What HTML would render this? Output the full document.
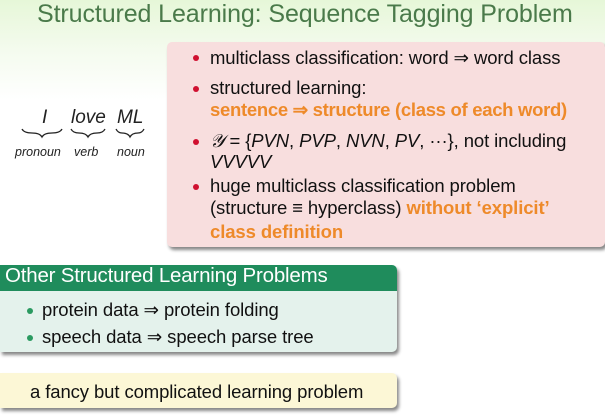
<!DOCTYPE html>
<html><head><meta charset="utf-8"><style>
*{margin:0;padding:0}
body{width:605px;height:418px;position:relative;overflow:hidden;font-family:"Liberation Sans",sans-serif;background:linear-gradient(#e6f7d8 0px,#f4fbee 50px,#fff 100px);}
.a{position:absolute;white-space:nowrap}
.t{font-size:18.5px;color:#111;letter-spacing:-0.1px}
.o{color:#ee8a2a;font-weight:bold}
.b{position:absolute;width:6px;height:6px;border-radius:50%}
.r{background:#d01030}
.g{background:#2a9a60}
</style></head><body>
<div class="a" style="left:37px;top:0px;font-size:25px;color:#4a7a4a;letter-spacing:-0.1px">Structured Learning: Sequence Tagging Problem</div>

<div class="a" style="left:167px;top:42px;width:438px;height:205px;background:#f8dede;border-radius:5px;box-shadow:2px 3px 3px #888"></div>
<div class="b r" style="left:193px;top:55px"></div>
<div class="a t" style="left:210px;top:47px">multiclass classification: word ⇒ word class</div>
<div class="b r" style="left:193px;top:86px"></div>
<div class="a t" style="left:210px;top:77px">structured learning:</div>
<div class="a t o" style="left:210px;top:99px;letter-spacing:-0.3px">sentence ⇒ structure (class of each word)</div>
<div class="b r" style="left:193px;top:139px"></div>
<div class="a t" style="left:210px;top:130px"><i style="font-family:'Liberation Serif',serif">𝒴</i> = {<i>PVN</i>, <i>PVP</i>, <i>NVN</i>, <i>PV</i>, ···}, not including</div>
<div class="a t" style="left:210px;top:151px"><i>VVVVV</i></div>
<div class="b r" style="left:193px;top:184px"></div>
<div class="a t" style="left:210px;top:175px">huge multiclass classification problem</div>
<div class="a t" style="left:210px;top:197px">(structure ≡ hyperclass) <span class="o">without ‘explicit’</span></div>
<div class="a t o" style="left:210px;top:221px">class definition</div>

<div class="a" style="left:42px;top:107px;font-size:19px;font-style:italic;color:#222">I</div>
<div class="a" style="left:71px;top:107px;font-size:19px;font-style:italic;color:#222">love</div>
<div class="a" style="left:117px;top:107px;font-size:19px;font-style:italic;color:#222">ML</div>
<svg class="a" style="left:0;top:0" width="170" height="160">
<g fill="none" stroke="#222" stroke-width="1.3">
<path d="M22 129 q2 4 10 4 q8 0 10 4 q2 -4 10 -4 q8 0 10 -4"/>
<path d="M71 129 q2 4 8 4 q7 0 9 4 q2 -4 9 -4 q6 0 8 -4"/>
<path d="M116 129 q2 4 6 4 q6 0 8 4 q2 -4 8 -4 q4 0 6 -4"/>
</g></svg>
<div class="a" style="left:15px;top:145px;font-size:12.5px;font-style:italic;color:#222">pronoun</div>
<div class="a" style="left:74px;top:145px;font-size:12.5px;font-style:italic;color:#222">verb</div>
<div class="a" style="left:117px;top:145px;font-size:12.5px;font-style:italic;color:#222">noun</div>

<div class="a" style="left:0;top:265px;width:397px;height:87px;background:#e4f2ec;border-radius:0 5px 5px 0;box-shadow:2px 3px 3px #888;overflow:hidden">
<div style="height:26px;background:#1f8c5c"></div></div>
<div class="a" style="left:5px;top:264px;font-size:20.5px;color:#fff;letter-spacing:-0.2px">Other Structured Learning Problems</div>
<div class="b g" style="left:27px;top:308px"></div>
<div class="a t" style="left:42px;top:299px">protein data ⇒ protein folding</div>
<div class="b g" style="left:27px;top:335px"></div>
<div class="a t" style="left:42px;top:326px">speech data ⇒ speech parse tree</div>

<div class="a" style="left:0;top:373px;width:397px;height:35px;background:#fcf7d6;border-radius:0 5px 5px 0;box-shadow:2px 3px 3px #888"></div>
<div class="a t" style="left:30px;top:381px">a fancy but complicated learning problem</div>
</body></html>
